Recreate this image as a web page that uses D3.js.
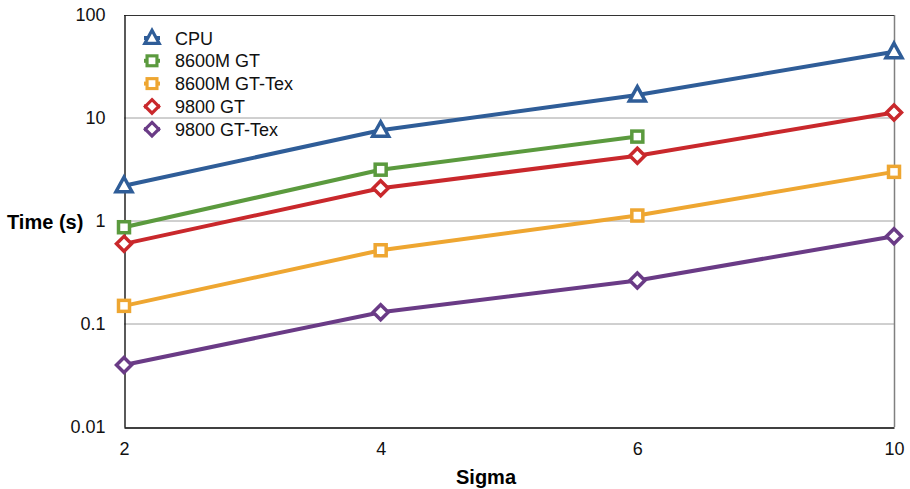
<!DOCTYPE html>
<html><head><meta charset="utf-8">
<script src="https://cdn.jsdelivr.net/npm/d3@7"></script>
<style>body{margin:0;background:#fff}text{font-family:"Liberation Sans",Arial,Helvetica,sans-serif}</style>
</head><body><svg id="c" width="910" height="489"></svg>
<script>
const categories = ["2","4","6","10"];
const cpu = [2.2, 7.6, 16.7, 44];
const gt8600m = [0.87, 3.15, 6.6];
const gt8600mTex = [0.15, 0.52, 1.13, 3.0];
const gt9800 = [0.6, 2.08, 4.3, 11.3];
const gt9800Tex = [0.04, 0.13, 0.265, 0.71];
const yTicks = [0.01, 0.1, 1, 10, 100];
const yTickLabels = ["0.01","0.1","1","10","100"];
const seriesNames = ["CPU","8600M GT","8600M GT-Tex","9800 GT","9800 GT-Tex"];

const series = [
  {name: seriesNames[0], values: cpu, color: "#2f5d98", shape: "tri"},
  {name: seriesNames[1], values: gt8600m, color: "#5b9a3e", shape: "sq"},
  {name: seriesNames[2], values: gt8600mTex, color: "#eea631", shape: "sq"},
  {name: seriesNames[3], values: gt9800, color: "#c9282c", shape: "dia"},
  {name: seriesNames[4], values: gt9800Tex, color: "#6a3b86", shape: "dia"}
];

const svg = d3.select("#c");
const L = 124, R = 894, T = 15, B = 427;
const x = d3.scalePoint().domain(categories).range([L, R]);
const y = d3.scaleLog().domain([0.01, 100]).range([B, T]);

// gridlines
svg.append("g").selectAll("line").data(yTicks.slice(1, 4)).join("line")
  .attr("x1", L).attr("x2", R).attr("y1", d => y(d)).attr("y2", d => y(d))
  .attr("stroke", "#a0a0a0").attr("stroke-width", 1);
// right border
svg.append("line").attr("x1", R + 0.5).attr("x2", R + 0.5).attr("y1", T).attr("y2", B)
  .attr("stroke", "#808080").attr("stroke-width", 1.5);
// top border
svg.append("line").attr("x1", L).attr("x2", R).attr("y1", T + 0.5).attr("y2", T + 0.5)
  .attr("stroke", "#333").attr("stroke-width", 1);

// axes
const yAxis = d3.axisLeft(y).tickValues(yTicks).tickFormat((d, i) => yTickLabels[i]).tickSize(0).tickPadding(19);
const gy = svg.append("g").attr("transform", `translate(${L + 0.5},0)`).call(yAxis);
gy.select(".domain").attr("stroke", "#000").attr("stroke-width", 1.3);
gy.selectAll("text").attr("font-size", 18).attr("fill", "#111");

const xAxis = d3.axisBottom(x).tickSize(0).tickPadding(15);
const gx = svg.append("g").attr("transform", `translate(0,${B + 0.5})`).call(xAxis);
gx.select(".domain").attr("stroke", "#000").attr("stroke-width", 1.3);
gx.selectAll("text").attr("font-size", 18).attr("fill", "#111");

// axis titles
svg.append("text").attr("x", 7).attr("y", 229).attr("font-size", 20).attr("font-weight", "bold").text("Time (s)");
svg.append("text").attr("x", 486).attr("y", 484).attr("text-anchor", "middle").attr("font-size", 20).attr("font-weight", "bold").text("Sigma");

function marker(g, shape, color) {
  if (shape === "tri") {
    g.append("path").attr("d", "M0,-8.5L8,6L-8,6Z").attr("fill", "#fff").attr("stroke", color).attr("stroke-width", 3.5).attr("stroke-linejoin", "miter");
  } else if (shape === "sq") {
    g.append("rect").attr("x", -5.5).attr("y", -5.5).attr("width", 11).attr("height", 11).attr("fill", "#fff").attr("stroke", color).attr("stroke-width", 3.5);
  } else {
    g.append("path").attr("d", "M0,-7.5L7.5,0L0,7.5L-7.5,0Z").attr("fill", "#fff").attr("stroke", color).attr("stroke-width", 3.5);
  }
}

const line = d3.line().x((d, i) => x(categories[i])).y(d => y(d));
series.forEach(s => {
  svg.append("path").datum(s.values).attr("d", line).attr("fill", "none")
    .attr("stroke", s.color).attr("stroke-width", 4).attr("stroke-linejoin", "round");
});
series.forEach(s => {
  s.values.forEach((v, i) => {
    const g = svg.append("g").attr("transform", `translate(${x(categories[i])},${y(v)})`);
    marker(g, s.shape, s.color);
  });
});

// legend
const lg = svg.append("g");
series.forEach((s, i) => {
  const yy = 38 + i * 22.8;
  const g = lg.append("g").attr("transform", `translate(152,${yy})`);
  g.append("line").attr("x1", -8).attr("x2", 8).attr("stroke", s.color).attr("stroke-width", 4);
  const m = g.append("g").attr("transform", "scale(0.9)");
  marker(m, s.shape, s.color);
  lg.append("text").attr("x", 175).attr("y", yy + 6.5).attr("font-size", 18).attr("fill", "#111").text(s.name);
});
</script></body></html>
